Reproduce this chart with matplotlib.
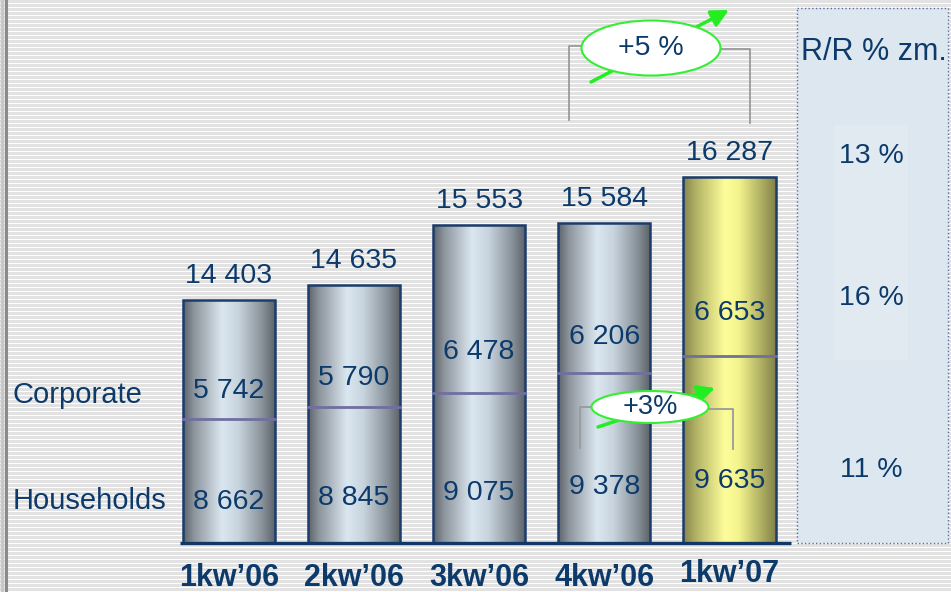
import numpy as np
import matplotlib.pyplot as plt
from matplotlib.patches import Rectangle, Ellipse
from matplotlib.colors import to_rgb

plt.rcParams['font.family'] = ['Liberation Sans', 'DejaVu Sans']

quarters = ["1kw\u201906", "2kw\u201906", "3kw\u201906", "4kw\u201906", "1kw\u201907"]
households = [8662, 8845, 9075, 9378, 9635]
corporate = [5742, 5790, 6478, 6206, 6653]
totals = [14403, 14635, 15553, 15584, 16287]
rr_labels = ["13 %", "16 %", "11 %"]   # total, corporate, households
growth_total = "+5 %"
growth_households = "+3%"

NAVY = '#0c3a6b'
W, H = 951, 592
K = 0.065            # px per value unit
BASE_H = 6760        # the slide is not to scale: each segment starts from an offset
BASE_C = 3900
X0, DX = 228.7, 125.2  # px of first bar centre, px between bars
BW = 0.735

def fmt(v):
    return f"{v:,}".replace(",", " ")

def gradient(stops, n=200):
    pos = [p for p, c in stops]
    cols = np.array([to_rgb(c) for p, c in stops])
    t = np.linspace(0, 1, n)
    rgb = np.stack([np.interp(t, pos, cols[:, j]) for j in range(3)], axis=-1)
    return rgb[np.newaxis, :, :]

grey_bar = gradient([(0, '#5d636a'), (0.12, '#8d959d'), (0.42, '#dbe7f0'),
                     (0.6, '#c7d3dd'), (0.85, '#8a939b'), (1, '#5a6066')])
yellow_bar = gradient([(0, '#85854c'), (0.15, '#b5b568'), (0.45, '#fdfd9a'),
                       (0.6, '#f4f48e'), (0.85, '#adad62'), (1, '#82824a')])

fig = plt.figure(figsize=(W / 100, H / 100), dpi=100)

# background: striped slide, left border, side panel
bg = fig.add_axes([0, 0, 1, 1], zorder=0)
rows = np.arange(H)
stripe = np.where(rows % 4 == 3, 1.0, 226 / 255)
bg.imshow(np.repeat(stripe[:, None, None], 3, axis=2), extent=(0, W, H, 0),
          aspect='auto', interpolation='nearest')
bg.set_xlim(0, W)
bg.set_ylim(H, 0)
bg.axis('off')
bg.axvline(1.5, color='#c8c8c8', lw=2.5)
bg.axvline(5.5, color='#8a8a8a', lw=2.2)
bg.add_patch(Rectangle((797, 8), 151, 535, fc='#dde7ef', ec='#5a6aa8', ls=':', lw=1))
bg.add_patch(Rectangle((834, 125), 74, 235, fc='#e2eaf1', ec='none'))
bg.text(874, 52, "R/R % zm.", fontsize=22, color=NAVY, ha='center', va='center')
for lab, y in zip(rr_labels, [156, 298, 470]):
    bg.text(871, y, lab, fontsize=20.5, color=NAVY, ha='center', va='center')
bg.text(13, 395, "Corporate", fontsize=21, color=NAVY, ha='left', va='center')
bg.text(13, 501, "Households", fontsize=21, color=NAVY, ha='left', va='center')

# main bars
ax = fig.add_axes([0, 0, 1, 1], zorder=1)
ax.patch.set_alpha(0)
xlim = (-X0 / DX, (W - X0) / DX)
ylim = (-49 / K, (H - 49) / K)

n = len(quarters)
for i in range(n):
    hs = households[i] - BASE_H
    cs = corporate[i] - BASE_C
    top = hs + cs
    img = yellow_bar if i == n - 1 else grey_bar
    im = ax.imshow(img, extent=(i - BW / 2, i + BW / 2, 0, top), aspect='auto',
                   interpolation='bilinear', zorder=2)
    rect = Rectangle((i - BW / 2, 0), BW, top, fc='none', ec='#1c3c6c', lw=1.8, zorder=3)
    ax.add_patch(rect)
    im.set_clip_path(rect)
    ax.plot([i - BW / 2, i + BW / 2], [hs, hs], color='#6f6fa0', lw=2, zorder=3)
    ax.text(i, hs * 0.33, fmt(households[i]), fontsize=20.5, color=NAVY,
            ha='center', va='center', zorder=4)
    ax.text(i, hs + cs * 0.24, fmt(corporate[i]), fontsize=20.5, color=NAVY,
            ha='center', va='center', zorder=4)
    ax.text(i, top + 24 / K, fmt(totals[i]), fontsize=20.5, color=NAVY,
            ha='center', va='center', zorder=4)
    lift = 4 if i == n - 1 else 0
    ax.text(i, -(35 - lift) / K, quarters[i], fontsize=22,
            fontweight='bold', color=NAVY, ha='center', va='center')

ax.hlines(0, -BW / 2 - 0.02, n - 1 + BW / 2 + 0.12, color='#0f3866', lw=2.4, zorder=5)
ax.set_xlim(*xlim)
ax.set_ylim(*ylim)
ax.axis('off')

# growth call-outs
top_ax = fig.add_axes([0, 0, 1, 1], zorder=2)
top_ax.patch.set_alpha(0)
top_ax.set_xlim(0, W)
top_ax.set_ylim(H, 0)
top_ax.axis('off')

def callout(cx, cy, w, h, text, size, arrow_from, arrow_to, left, right):
    lx, ly0, ly1 = left
    rx, ry0, ry1 = right
    top_ax.plot([lx, lx, cx], [ly1, ly0, ly0], color='#9a9a9a', lw=1.3, zorder=1)
    top_ax.plot([cx, rx, rx], [ry0, ry0, ry1], color='#9a9a9a', lw=1.3, zorder=1)
    top_ax.annotate('', xy=arrow_to, xytext=arrow_from, zorder=2,
                    arrowprops=dict(arrowstyle='-|>', color='#22ee22', lw=2.5,
                                    mutation_scale=26, shrinkA=0, shrinkB=0))
    top_ax.add_patch(Ellipse((cx, cy), w, h, fc='white', ec='#33ee33', lw=1.5, zorder=3))
    top_ax.text(cx, cy, text, fontsize=size, color=NAVY, ha='center', va='center', zorder=4)

callout(651, 48, 139, 55, growth_total, 20.5, (591, 82), (729, 10),
        (569, 46, 120), (750, 49, 123))
callout(650, 407, 117, 32, growth_households, 19.5, (598, 427), (715, 388),
        (580, 407, 448), (733, 409, 449))

fig.savefig('out.png', dpi=100)
